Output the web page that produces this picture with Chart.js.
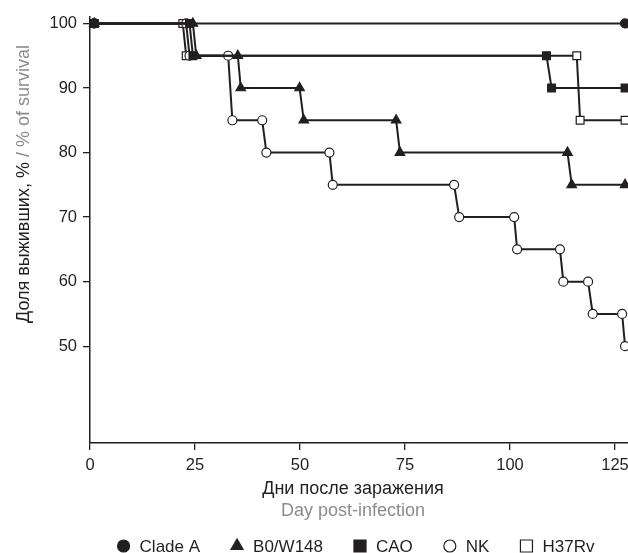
<!DOCTYPE html>
<html>
<head>
<meta charset="utf-8">
<title>Survival</title>
<script src="https://cdn.jsdelivr.net/npm/chart.js"></script>
<style>
  body { margin: 0; background: #fff; }
  canvas { display: block; }
</style>
</head>
<body>
<canvas id="survivalChart" width="628" height="553"></canvas>
<script>
// data (day, % surviving)
const seriesNames = ['Clade A', 'B0/W148', 'CAO', 'NK', 'H37Rv'];

const cladeDays = [1, 127.4];
const cladeVals = [100, 100];

const b0Days = [1, 24.5, 25.3, 35.2, 35.9, 49.9, 50.9, 72.9, 73.8, 113.7, 114.7, 127.4];
const b0Vals = [100, 100, 95, 95, 90, 90, 85, 85, 80, 80, 75, 75];

const caoDays = [1, 23.7, 24.5, 108.7, 109.9, 127.4];
const caoVals = [100, 100, 95, 95, 90, 90];

const nkDays = [1, 22.9, 23.7, 32.9, 33.9, 41.0, 42.0, 57.0, 57.8, 86.7, 87.9, 101.0, 101.7, 111.9, 112.7, 118.6, 119.7, 126.7, 127.4];
const nkVals = [100, 100, 95, 95, 85, 85, 80, 80, 75, 75, 70, 70, 65, 65, 60, 60, 55, 55, 50];

const h37Days = [1, 22.1, 22.9, 115.9, 116.7, 127.4];
const h37Vals = [100, 100, 95, 95, 85, 85];

const xTicks = [0, 25, 50, 75, 100, 125];
const yTicks = [50, 60, 70, 80, 90, 100];

const ink = '#231f20';
const grey = '#8c8c8c';
const fontName = '"Liberation Sans", Arial, sans-serif';

function pts(days, vals) {
  return days.map((d, i) => ({ x: d, y: vals[i] }));
}

const markers = [
  { style: 'circle', fill: ink, r: 4.5, lr: 6 },
  { style: 'triangle', fill: ink, r: 5.5, lr: 7 },
  { style: 'rect', fill: ink, r: 5.5, lr: 8.5 },
  { style: 'circle', fill: '#fff', r: 4.5, lr: 6 },
  { style: 'rect', fill: '#fff', r: 5.5, lr: 8.5 }
];

const allData = [
  pts(cladeDays, cladeVals),
  pts(b0Days, b0Vals),
  pts(caoDays, caoVals),
  pts(nkDays, nkVals),
  pts(h37Days, h37Vals)
];

const datasets = allData.map((d, i) => ({
  label: seriesNames[i],
  data: d,
  borderColor: ink,
  borderWidth: 2,
  tension: 0,
  pointStyle: markers[i].style,
  pointRadius: markers[i].r,
  pointBackgroundColor: markers[i].fill,
  pointBorderColor: ink,
  pointBorderWidth: 1.2,
  clip: false
}));

// axis titles + legend drawn by hand (two-colour titles)
const annotations = {
  id: 'annotations',
  afterDraw(chart) {
    const ctx = chart.ctx;
    ctx.save();

    // y title
    ctx.font = '18px ' + fontName;
    ctx.textBaseline = 'alphabetic';
    ctx.textAlign = 'left';
    ctx.translate(29, 323);
    ctx.rotate(-Math.PI / 2);
    const ruPart = 'Доля выживших, %';
    const enPart = ' / % of survival';
    ctx.fillStyle = ink;
    ctx.fillText(ruPart, 0, 0);
    const w = ctx.measureText(ruPart).width;
    ctx.fillStyle = grey;
    ctx.fillText(enPart, w, 0);
    ctx.setTransform(1, 0, 0, 1, 0, 0);

    // x title
    ctx.textAlign = 'center';
    ctx.font = '18px ' + fontName;
    ctx.fillStyle = ink;
    ctx.fillText('Дни после заражения', 353, 494);
    ctx.fillStyle = grey;
    ctx.fillText('Day post-infection', 353, 516);

    // legend
    ctx.font = '17px ' + fontName;
    ctx.textAlign = 'left';
    const gapIn = 16, gapOut = 37;
    let total = 0;
    const widths = seriesNames.map(n => ctx.measureText(n).width);
    widths.forEach((tw, i) => { total += gapIn + tw + (i < widths.length - 1 ? gapOut : 0); });
    let cx = 353 - total / 2 + 6;
    seriesNames.forEach((name, i) => {
      const m = markers[i];
      ctx.fillStyle = m.fill;
      ctx.strokeStyle = ink;
      ctx.lineWidth = 1.2;
      Chart.helpers.drawPoint(ctx, { pointStyle: m.style, radius: m.lr, borderWidth: 1.2 }, cx, 546);
      ctx.fillStyle = ink;
      ctx.fillText(name, cx + gapIn, 552);
      cx += gapIn + widths[i] + gapOut;
    });

    ctx.restore();
  }
};

new Chart(document.getElementById('survivalChart'), {
  type: 'line',
  data: { datasets },
  options: {
    responsive: false,
    animation: false,
    layout: { autoPadding: false, padding: { top: 17, right: 0, bottom: 0, left: 0 } },
    plugins: { legend: { display: false }, tooltip: { enabled: false } },
    scales: {
      x: {
        type: 'linear',
        min: 0,
        max: 128.1,
        afterBuildTicks: s => { s.ticks = xTicks.map(v => ({ value: v })); },
        afterFit: s => { s.height = 110; s.paddingLeft = 0; s.paddingRight = 0; },
        grid: { drawOnChartArea: false, color: ink, lineWidth: 1.3, tickLength: 7 },
        border: { color: ink, width: 1.5 },
        ticks: { color: ink, font: { family: fontName, size: 16.5 }, padding: 6, maxRotation: 0 }
      },
      y: {
        min: 35,
        max: 101,
        afterBuildTicks: s => { s.ticks = yTicks.map(v => ({ value: v })); },
        afterFit: s => { s.width = 90; s.paddingTop = 0; s.paddingBottom = 0; },
        grid: { drawOnChartArea: false, color: ink, lineWidth: 1.3, tickLength: 7 },
        border: { color: ink, width: 1.5 },
        ticks: { color: ink, font: { family: fontName, size: 16.5 }, padding: 6 }
      }
    }
  },
  plugins: [annotations]
});
</script>
</body>
</html>
